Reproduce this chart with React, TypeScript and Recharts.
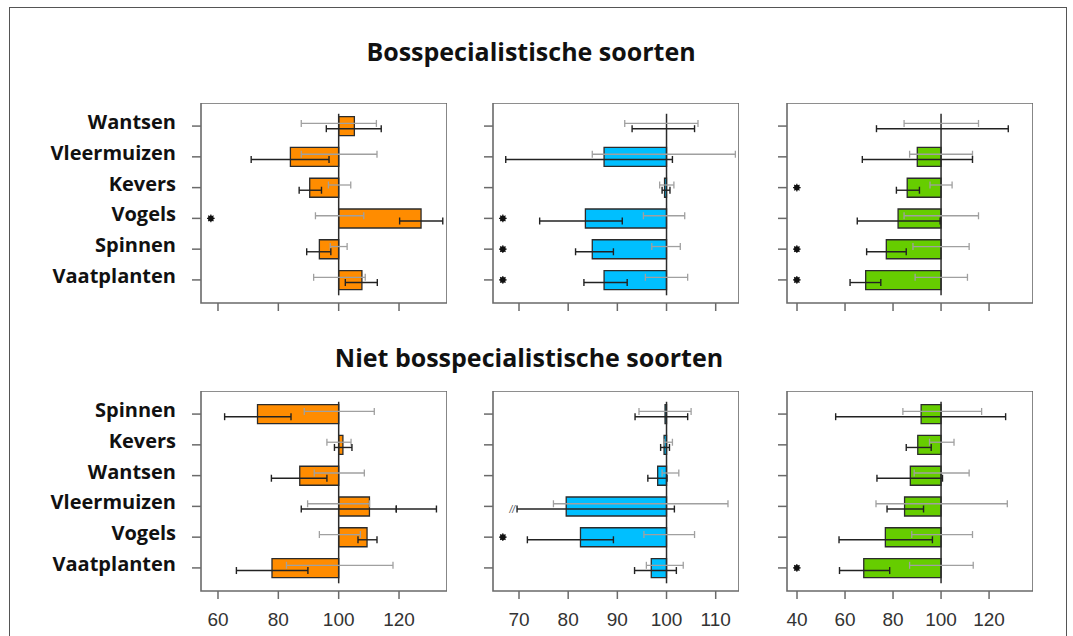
import React from 'react';
import {
  ComposedChart,
  Bar,
  Scatter,
  XAxis,
  YAxis,
  ErrorBar,
  ReferenceLine,
  ReferenceArea,
} from 'recharts';

// ---------- categories & tick labels ----------
const topCategories = ['Wantsen', 'Vleermuizen', 'Kevers', 'Vogels', 'Spinnen', 'Vaatplanten'];
const bottomCategories = ['Spinnen', 'Kevers', 'Wantsen', 'Vleermuizen', 'Vogels', 'Vaatplanten'];

const ticksLeft = [60, 80, 100, 120];
const ticksMid = [70, 80, 90, 100, 110];
const ticksRight = [40, 60, 80, 100, 120];

const titleTop = 'Bosspecialistische soorten';
const titleBottom = 'Niet bosspecialistische soorten';

// ---------- Bosspecialistische soorten ----------
// orange
const p1Bars = [105.2, 84.0, 90.4, 127.3, 93.6, 107.7];
const p1GreyLo = [87.6, 87.6, 96.6, 92.3, 97.2, 91.7];
const p1GreyHi = [112.5, 112.7, 104.0, 108.3, 102.8, 108.8];
const p1BlackLo = [95.9, 71.0, 86.9, 120.2, 89.4, 102.2];
const p1BlackHi = [114.1, 96.8, 94.3, 134.5, 97.4, 112.8];
const p1Marks = ['', '', '', '*', '', ''];

// blue
const p2Bars = [100, 87.3, 99.6, 83.5, 84.9, 87.3];
const p2GreyLo = [91.5, 84.9, 98.6, 95.3, 97.0, 95.7];
const p2GreyHi = [106.4, 114.0, 101.5, 103.7, 102.8, 104.3];
const p2BlackLo = [93.0, 67.3, 99.1, 74.2, 81.5, 83.2];
const p2BlackHi = [105.7, 101.2, 100.7, 91.0, 89.2, 92.0];
const p2Marks = ['', '', '', '*', '*', '*'];

// green
const p3Bars = [100, 90.1, 85.9, 82.1, 77.2, 68.6];
const p3GreyLo = [84.6, 86.9, 95.4, 84.6, 88.3, 89.2];
const p3GreyHi = [115.6, 113.1, 104.6, 115.6, 111.7, 111.0];
const p3BlackLo = [73.1, 67.2, 81.4, 65.1, 69.0, 62.1];
const p3BlackHi = [128.0, 113.1, 91.0, 99.6, 85.5, 74.9];
const p3Marks = ['', '', '*', '', '*', '*'];

// ---------- Niet bosspecialistische soorten ----------
// orange
const p4Bars = [73.1, 101.4, 87.1, 110.2, 109.4, 77.9];
const p4GreyLo = [88.6, 96.1, 91.9, 89.7, 93.6, 82.7];
const p4GreyHi = [111.8, 104.1, 108.5, 110.2, 107.2, 118.0];
const p4BlackLo = [62.2, 98.6, 77.7, 87.6, 106.4, 66.1];
const p4BlackHi = [84.2, 104.4, 96.1, 119.1, 112.7, 89.8];
const p4Marks = ['', '', '', '', '', ''];
// extension of the black interval (Vleermuizen)
const p4ExtraRow = [4];
const p4ExtraLo = [119.1];
const p4ExtraHi = [132.4];

// blue
const p5Bars = [99.7, 99.5, 98.2, 79.6, 82.5, 96.9];
const p5GreyLo = [94.4, 99.5, 99.1, 77.0, 95.4, 95.9];
const p5GreyHi = [105.0, 101.2, 102.5, 112.5, 105.7, 103.4];
const p5BlackLo = [93.6, 98.8, 96.2, 69.6, 71.7, 93.5];
const p5BlackHi = [104.3, 100.6, 100.1, 101.6, 89.2, 102.0];
const p5Marks = ['', '', '', '//', '*', ''];

// green
const p6Bars = [91.7, 90.3, 87.2, 84.8, 76.8, 67.8];
const p6GreyLo = [84.1, 95.2, 88.8, 72.9, 87.8, 86.9];
const p6GreyHi = [116.9, 105.4, 111.7, 127.6, 113.1, 113.4];
const p6BlackLo = [56.1, 85.5, 73.3, 77.5, 57.5, 57.7];
const p6BlackHi = [126.9, 95.9, 100.6, 92.7, 96.4, 78.6];
const p6Marks = ['', '', '', '', '', '*'];

// ---------- styling ----------
const ORANGE = '#FF8C00';
const BLUE = '#00BFFF';
const GREEN = '#66CD00';
const BOX = '#6a6a6a';
const LABEL_FONT = "'Open Sans', 'DejaVu Sans', sans-serif";
const TICK_FONT = "'Liberation Sans', Arial, sans-serif";

const BOX_W = 246;
const BOX_H = 200;
const Y_DOMAIN: [number, number] = [0.25, 6.75];
const ERR_OFF = 0.085;

type Spec = {
  left: number;
  top: number;
  yAxisW: number;
  domain: [number, number];
  ticks: number[];
  labels: string[] | null;
  showTickLabels: boolean;
  color: string;
  bars: number[];
  greyLo: number[];
  greyHi: number[];
  blackLo: number[];
  blackHi: number[];
  marks: string[];
  extraRow?: number[];
  extraLo?: number[];
  extraHi?: number[];
};

const Hidden = () => <g />;

const StarShape = (props: any) => {
  const { cx, cy } = props;
  if (cx == null || cy == null) return <g />;
  const r = 3.8;
  const d = r * 0.7;
  return (
    <g>
      <circle cx={cx} cy={cy} r={2.8} fill="#111" />
      <path
        d={`M${cx - r},${cy} L${cx + r},${cy} M${cx},${cy - r} L${cx},${cy + r} M${cx - d},${cy - d} L${cx + d},${cy + d} M${cx - d},${cy + d} L${cx + d},${cy - d}`}
        stroke="#111"
        strokeWidth={1.1}
      />
    </g>
  );
};

const BreakShape = (props: any) => {
  const { cx, cy } = props;
  if (cx == null || cy == null) return <g />;
  return (
    <text
      x={cx - 2}
      y={cy + 3.5}
      textAnchor="end"
      fontFamily={TICK_FONT}
      fontStyle="italic"
      fontSize={10}
      fill="#555"
    >
      //
    </text>
  );
};

function Panel({ spec }: { spec: Spec }) {
  const xAxisH = spec.showTickLabels ? 44 : 20;
  const width = spec.yAxisW + BOX_W;
  const height = BOX_H + xAxisH;

  const rows = spec.bars.map((v, i) => ({
    row: i + 1,
    range: [Math.min(100, v), Math.max(100, v)],
  }));
  const grey = spec.greyLo.map((lo, i) => ({
    x: lo,
    pos: i + 1 - ERR_OFF,
    err: [0, spec.greyHi[i] - lo],
  }));
  const black = spec.blackLo.map((lo, i) => ({
    x: lo,
    pos: i + 1 + ERR_OFF,
    err: [0, spec.blackHi[i] - lo],
  }));
  if (spec.extraRow && spec.extraLo && spec.extraHi) {
    spec.extraRow.forEach((r, k) => {
      black.push({
        x: spec.extraLo![k],
        pos: r + ERR_OFF,
        err: [0, spec.extraHi![k] - spec.extraLo![k]],
      });
    });
  }
  const starX = spec.domain[0] + 0.04 * (spec.domain[1] - spec.domain[0]);
  const stars = spec.marks
    .map((m, i) => ({ m, i }))
    .filter((o) => o.m === '*')
    .map((o) => ({ x: starX, pos: o.i + 1 }));
  const breaks = spec.marks
    .map((m, i) => ({ m, i }))
    .filter((o) => o.m === '//')
    .map((o) => ({ x: spec.blackLo[o.i], pos: o.i + 1 + ERR_OFF }));

  const labels = spec.labels;
  const YTick = (props: any) => {
    const { x, y, payload } = props;
    if (!labels) return <g />;
    return (
      <text
        x={x}
        y={y + 3}
        textAnchor="end"
        fontFamily={LABEL_FONT}
        fontWeight={700}
        fontSize={20}
        fill="#111"
      >
        {labels[Math.round(payload.value) - 1]}
      </text>
    );
  };
  const showLbl = spec.showTickLabels;
  const XTick = (props: any) => {
    const { x, y, payload } = props;
    if (!showLbl) return <g />;
    return (
      <text
        x={x}
        y={y + 5}
        dy="0.71em"
        textAnchor="middle"
        fontFamily={TICK_FONT}
        fontSize={19}
        fill="#333"
      >
        {payload.value}
      </text>
    );
  };

  return (
    <div style={{ position: 'absolute', left: spec.left, top: spec.top }}>
      <ComposedChart
        width={width}
        height={height}
        data={rows}
        layout="vertical"
        margin={{ top: 0, right: 0, bottom: 0, left: 0 }}
      >
        <XAxis
          type="number"
          dataKey="x"
          domain={spec.domain}
          allowDataOverflow
          ticks={spec.ticks}
          interval={0}
          axisLine={false}
          tickSize={8}
          tickMargin={9}
          tickLine={{ stroke: BOX, strokeWidth: 1.5 }}
          tick={XTick}
          height={xAxisH}
        />
        <YAxis
          yAxisId="cat"
          type="number"
          dataKey="row"
          domain={Y_DOMAIN}
          allowDataOverflow
          ticks={[1, 2, 3, 4, 5, 6]}
          interval={0}
          axisLine={false}
          tickSize={9}
          tickMargin={16}
          tickLine={{ stroke: BOX, strokeWidth: 1.5 }}
          tick={YTick}
          width={spec.yAxisW}
        />
        <YAxis
          yAxisId="pts"
          type="number"
          dataKey="pos"
          domain={Y_DOMAIN}
          allowDataOverflow
          hide
        />
        <ReferenceArea
          yAxisId="pts"
          x1={spec.domain[0]}
          x2={spec.domain[1]}
          y1={Y_DOMAIN[0]}
          y2={Y_DOMAIN[1]}
          fill="none"
          stroke={BOX}
          strokeWidth={1.6}
          ifOverflow="visible"
        />
        <Bar
          yAxisId="cat"
          dataKey="range"
          barSize={19}
          fill={spec.color}
          stroke="#2b2b2b"
          strokeWidth={1.3}
          isAnimationActive={false}
        />
        <ReferenceLine
          yAxisId="pts"
          segment={[
            { x: 100, y: 0.6 },
            { x: 100, y: 6.5 },
          ]}
          stroke="#2b2b2b"
          strokeWidth={1.5}
          ifOverflow="visible"
        />
        <Scatter yAxisId="pts" data={grey} shape={Hidden} isAnimationActive={false}>
          <ErrorBar
            dataKey="err"
            direction="x"
            width={3.5}
            stroke="#a0a0a0"
            strokeWidth={1.3}
            isAnimationActive={false}
          />
        </Scatter>
        <Scatter yAxisId="pts" data={black} shape={Hidden} isAnimationActive={false}>
          <ErrorBar
            dataKey="err"
            direction="x"
            width={3.5}
            stroke="#222"
            strokeWidth={1.4}
            isAnimationActive={false}
          />
        </Scatter>
        <Scatter yAxisId="pts" data={stars} shape={StarShape} isAnimationActive={false} />
        <Scatter yAxisId="pts" data={breaks} shape={BreakShape} isAnimationActive={false} />
      </ComposedChart>
    </div>
  );
}

const domLeft: [number, number] = [54.37, 135.9];
const domMid: [number, number] = [64.71, 114.74];
const domRight: [number, number] = [35.83, 138.3];

const TOP_Y = 103;
const BOTTOM_Y = 391;

const specs: Spec[] = [
  { left: 20, top: TOP_Y, yAxisW: 181, domain: domLeft, ticks: ticksLeft, labels: topCategories, showTickLabels: false, color: ORANGE, bars: p1Bars, greyLo: p1GreyLo, greyHi: p1GreyHi, blackLo: p1BlackLo, blackHi: p1BlackHi, marks: p1Marks },
  { left: 473, top: TOP_Y, yAxisW: 20, domain: domMid, ticks: ticksMid, labels: null, showTickLabels: false, color: BLUE, bars: p2Bars, greyLo: p2GreyLo, greyHi: p2GreyHi, blackLo: p2BlackLo, blackHi: p2BlackHi, marks: p2Marks },
  { left: 767, top: TOP_Y, yAxisW: 20, domain: domRight, ticks: ticksRight, labels: null, showTickLabels: false, color: GREEN, bars: p3Bars, greyLo: p3GreyLo, greyHi: p3GreyHi, blackLo: p3BlackLo, blackHi: p3BlackHi, marks: p3Marks },
  { left: 20, top: BOTTOM_Y, yAxisW: 181, domain: domLeft, ticks: ticksLeft, labels: bottomCategories, showTickLabels: true, color: ORANGE, bars: p4Bars, greyLo: p4GreyLo, greyHi: p4GreyHi, blackLo: p4BlackLo, blackHi: p4BlackHi, marks: p4Marks, extraRow: p4ExtraRow, extraLo: p4ExtraLo, extraHi: p4ExtraHi },
  { left: 473, top: BOTTOM_Y, yAxisW: 20, domain: domMid, ticks: ticksMid, labels: null, showTickLabels: true, color: BLUE, bars: p5Bars, greyLo: p5GreyLo, greyHi: p5GreyHi, blackLo: p5BlackLo, blackHi: p5BlackHi, marks: p5Marks },
  { left: 767, top: BOTTOM_Y, yAxisW: 20, domain: domRight, ticks: ticksRight, labels: null, showTickLabels: true, color: GREEN, bars: p6Bars, greyLo: p6GreyLo, greyHi: p6GreyHi, blackLo: p6BlackLo, blackHi: p6BlackHi, marks: p6Marks },
];

export default function App() {
  return (
    <div
      style={{
        position: 'absolute',
        left: 0,
        top: 0,
        width: 1073,
        height: 636,
        overflow: 'hidden',
        background: '#fff',
      }}
    >
      <div
        style={{
          position: 'absolute',
          left: 9,
          top: 7,
          width: 1058,
          height: 700,
          border: '1.3px solid #555',
          boxSizing: 'border-box',
        }}
      />
      <svg
        width={1073}
        height={636}
        style={{ position: 'absolute', left: 0, top: 0, pointerEvents: 'none' }}
      >
        <text x={531} y={61} textAnchor="middle" fontFamily={LABEL_FONT} fontWeight={700} fontSize={25} fill="#111">
          {titleTop}
        </text>
        <text x={529} y={367} textAnchor="middle" fontFamily={LABEL_FONT} fontWeight={700} fontSize={25} fill="#111">
          {titleBottom}
        </text>
      </svg>
      {specs.map((s, i) => (
        <Panel key={i} spec={s} />
      ))}
    </div>
  );
}
